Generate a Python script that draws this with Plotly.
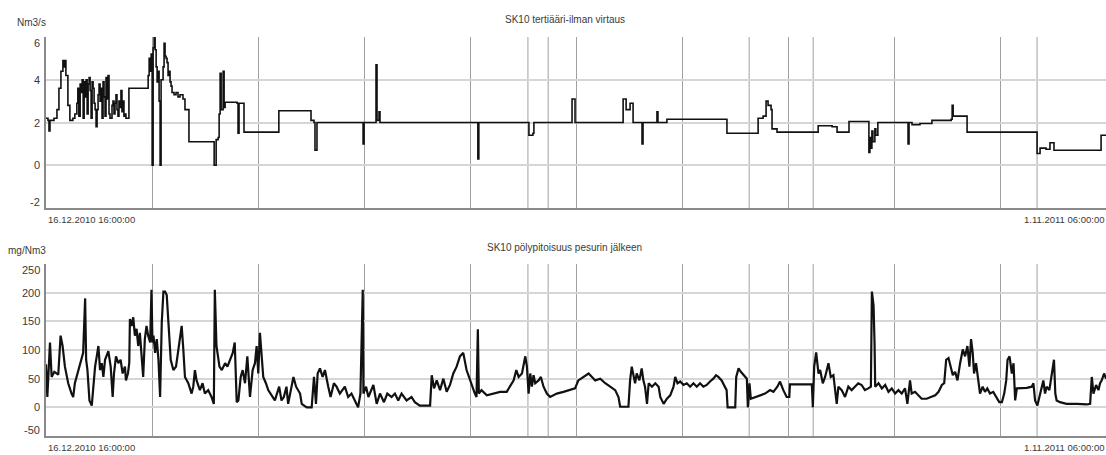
import pandas as pd
import plotly.graph_objects as go

# ---------------- data ----------------
start_time = "2010-12-16 16:00:00"
end_time = "2011-11-01 06:00:00"
start_label = "16.12.2010 16:00:00"
end_label = "1.11.2011 06:00:00"

title_top = "SK10 tertiääri-ilman virtaus"
title_bottom = "SK10 pölypitoisuus pesurin jälkeen"
unit_top = "Nm3/s"
unit_bottom = "mg/Nm3"

# days since start, flow value (Nm3/s), held until next point
flow_days = [0, 0.6, 0.9, 1.2, 2.4, 3.3, 3.9, 4.5, 5.1, 5.4, 5.7, 6.0, 6.6, 7.2, 8.1, 8.7,
             9.3, 9.6, 9.9, 10.3, 10.6, 10.9, 11.2, 11.5, 11.8, 12.1, 12.4, 12.7, 13.0, 13.3,
             13.6, 13.9, 14.2, 14.5, 14.8, 15.1, 15.4, 15.7, 16.0, 16.3, 16.6, 16.9, 17.2, 17.5,
             17.8, 18.1, 18.4, 18.7, 19.0, 19.3, 19.9, 20.2, 20.5, 20.8, 21.1, 21.4, 21.7, 22.0,
             22.3, 22.6, 22.9, 23.2, 23.5, 23.8, 24.1, 24.7, 25.0, 30.5, 30.8, 31.1, 31.4, 31.7,
             32.0, 32.3, 32.6, 32.9, 33.2, 33.5, 33.8, 34.1, 34.4, 34.7, 35.3, 35.6, 35.9, 36.2,
             36.5, 36.8, 37.1, 37.4, 37.7, 38.0, 38.6, 39.2, 39.8, 40.4, 41.3, 41.9, 43.1, 50.4,
             50.7, 51.3, 51.9, 52.2, 52.5, 52.8, 53.1, 53.4, 53.7, 54.0, 57.6, 57.9, 58.2, 59.4,
             59.7, 69.9, 70.2, 79.6, 79.9, 80.8, 81.1, 81.7, 95.3, 95.6, 95.9, 99.2, 99.5, 99.8,
             100.4, 100.7, 129.9, 130.2, 130.5, 145.3, 145.6, 146.8, 147.1, 158.3, 158.6, 159.5,
             173.7, 174.0, 174.9, 176.1, 177.0, 179.4, 179.7, 180.0, 183.9, 184.2, 184.5, 187.2,
             205.3, 214.7, 216.2, 217.1, 217.7, 218.6, 218.9, 220.4, 232.8, 237.0, 238.5, 242.1,
             247.8, 248.1, 248.4, 248.7, 249.0, 249.3, 249.9, 250.2, 250.8, 259.0, 259.9, 260.2,
             261.1, 263.5, 267.1, 272.9, 273.2, 273.5, 277.7, 298.8, 299.7, 301.5, 302.7, 303.9,
             317.8, 318.1, 319.6]
flow_vals = [2.2, 2.1, 1.6, 2.1, 2.2, 2.6, 3.6, 4.4, 4.9, 4.6, 4.9, 4.2, 2.8, 2.1, 2.2, 2.4,
             2.9, 3.6, 2.3, 3.8, 3.4, 4.0, 2.2, 3.9, 3.2, 4.0, 2.4, 3.8, 4.1, 3.5,
             2.2, 3.9, 3.6, 2.9, 2.6, 1.8, 2.6, 3.3, 3.8, 3.0, 3.6, 2.2, 3.9, 3.2,
             2.3, 4.1, 3.1, 4.2, 2.4, 2.2, 2.8, 3.0, 2.4, 2.9, 3.3, 2.6, 2.3, 3.0,
             2.7, 3.5, 2.5, 3.0, 2.3, 2.4, 2.2, 2.2, 3.6, 3.6, 4.2, 5.0, 4.4, 5.2,
             0.0, 5.5, 6.0, 5.4, 4.6, 3.9, 4.4, 3.0, 0.0, 4.0, 4.6, 5.7, 5.1, 5.0,
             4.8, 4.2, 4.4, 3.9, 3.7, 3.4, 3.3, 3.4, 3.2, 3.3, 3.1, 2.6, 1.1, 1.1,
             0.0, 1.2, 1.3, 2.4, 4.3, 2.6, 2.6, 4.4, 2.7, 2.95, 2.9, 1.5, 2.9, 2.9,
             1.55, 1.55, 2.55, 2.55, 2.1, 2.0, 0.7, 2.0, 2.0, 1.0, 2.0, 2.0, 4.7, 2.1,
             2.5, 2.0, 2.0, 0.3, 2.0, 2.0, 1.4, 1.5, 2.0, 2.0, 3.1, 2.0,
             2.0, 3.1, 2.6, 2.9, 2.0, 2.0, 1.0, 2.0, 2.0, 2.5, 2.0, 2.15,
             1.5, 2.2, 2.3, 3.0, 2.8, 2.6, 1.7, 1.55, 1.85, 1.8, 1.55, 2.05,
             2.05, 0.6, 1.3, 0.8, 1.6, 1.1, 1.7, 1.4, 2.0, 2.0, 1.0, 2.0,
             1.9, 1.95, 2.1, 2.15, 2.8, 2.3, 1.55, 0.55, 0.8, 0.75, 1.05, 0.7,
             0.7, 1.4, 1.4]

# days since start, dust concentration (mg/Nm3)
dust_days = [0, 0.4, 1.2, 1.7, 2.5, 3.7, 4.4, 5.0, 5.7, 6.7, 7.7, 8.2, 8.7, 9.7, 10.7, 11.2,
             11.8, 12.1, 12.5, 13.1, 13.8, 14.3, 14.8, 15.3, 15.8, 16.3, 16.8, 17.3, 17.8, 18.8,
             19.5, 20.1, 20.5, 21.1, 21.8, 22.5, 23.1, 23.8, 24.1, 24.7, 25.1, 25.3, 25.8, 26.3,
             26.8, 27.3, 27.8, 28.3, 29.3, 29.8, 30.3, 30.8, 31.4, 31.8, 32.1, 32.4, 32.9, 33.4,
             33.9, 34.4, 34.9, 35.4, 35.9, 36.4, 36.9, 37.6, 38.4, 39.2, 40.2, 40.9, 41.4, 41.9,
             42.9, 43.9, 44.4, 44.9, 45.4, 46.4, 47.2, 47.9, 48.9, 49.9, 50.6, 50.9, 51.4, 52.3,
             53.0, 54.0, 54.7, 55.5, 56.3, 56.9, 57.2, 57.5, 58.0, 58.7, 59.3, 60.0, 60.7, 61.5,
             62.3, 63.0, 63.5, 64.0, 64.5, 65.0, 65.5, 66.3, 67.0, 69.0, 70.3, 71.0, 71.7, 72.5,
             73.0, 74.6, 75.4, 76.6, 77.1, 78.6, 80.1, 80.8, 81.4, 81.9, 82.6, 83.4, 84.1, 85.1,
             85.8, 86.8, 87.6, 88.6, 89.4, 90.1, 91.1, 92.1, 93.1, 94.1, 94.8, 95.5, 95.7, 96.5,
             97.2, 98.7, 99.7, 100.7, 101.9, 102.9, 104.2, 105.2, 106.2, 107.2, 108.7, 110.2,
             111.2, 112.7, 115.8, 116.3, 117.0, 117.8, 118.8, 119.8, 120.8, 121.8, 122.8, 123.8,
             124.8, 125.8, 126.8, 127.8, 129.3, 129.8, 130.2, 130.5, 131.3, 132.9, 134.9, 136.9,
             138.9, 139.9, 141.0, 141.8, 142.5, 143.5, 144.0, 144.5, 145.0, 145.5, 146.0, 146.5,
             147.0, 147.5, 148.5, 149.2, 150.0, 151.0, 152.0, 154.0, 156.0, 158.0, 159.5, 160.5,
             162.1, 163.6, 164.6, 165.6, 167.1, 168.6, 170.1, 171.6, 172.6, 173.1, 175.6, 176.1,
             176.6, 177.1, 177.6, 178.1, 178.9, 179.6, 180.1, 180.6, 181.2, 181.7, 182.7, 183.7,
             184.7, 185.2, 186.2, 187.2, 188.2, 189.2, 189.7, 190.4, 191.2, 192.2, 193.2, 194.2,
             195.2, 196.2, 197.2, 198.2, 199.2, 200.2, 201.2, 202.0, 202.7, 203.7, 204.4, 205.2,
             205.5, 207.8, 208.1, 208.8, 209.5, 210.3, 211.3, 211.6, 212.1, 212.5, 213.8, 215.3,
             216.8, 218.3, 219.3, 220.5, 221.3, 222.3, 223.3, 224.1, 224.3, 230.9, 231.2, 231.6,
             232.2, 232.9, 233.4, 234.2, 234.9, 235.9, 236.6, 237.4, 238.4, 238.9, 239.9, 240.9,
             241.9, 242.9, 243.9, 244.9, 245.9, 246.9, 247.9, 248.7, 249.0, 249.5, 249.8, 250.0,
             251.0, 252.0, 253.0, 254.0, 255.0, 256.0, 257.0, 258.0, 259.0, 259.7, 260.5, 261.0,
             262.0, 263.0, 264.0, 265.5, 267.0, 268.1, 269.1, 270.1, 270.8, 271.4, 272.1, 272.8,
             273.4, 274.1, 274.8, 275.6, 276.4, 277.1, 277.8, 278.4, 278.9, 279.4, 279.8, 280.4,
             281.1, 281.6, 282.4, 283.1, 283.8, 284.6, 285.6, 286.6, 287.4, 288.2, 288.9, 289.5,
             289.9, 290.5, 291.2, 291.7, 292.2, 292.7, 293.7, 294.7, 295.7, 297.2, 297.7, 298.2,
             298.9, 299.5, 300.2, 300.7, 301.2, 301.7, 302.5, 303.2, 303.9, 304.3, 304.7, 305.7,
             307.7, 310.8, 313.8, 314.8, 315.3, 315.8, 316.6, 317.3, 317.8, 318.3, 319.0, 319.6]
dust_vals = [75, 18, 113, 53, 62, 57, 125, 107, 71, 42, 24, 18, 42, 65, 83, 95,
             190, 83, 65, 12, 3, 36, 71, 89, 107, 65, 77, 53, 83, 98,
             71, 18, 59, 89, 77, 83, 59, 71, 47, 59, 77, 154, 142, 157,
             125, 137, 107, 130, 53, 119, 142, 125, 113, 205, 113, 125, 95, 119,
             83, 18, 148, 202, 202, 196, 142, 83, 65, 71, 113, 142, 101, 53,
             42, 24, 36, 65, 47, 30, 42, 24, 30, 18, 6, 205, 107, 71,
             65, 77, 71, 83, 95, 113, 65, 9, 12, 53, 65, 42, 89, 18,
             65, 77, 107, 59, 130, 83, 53, 42, 30, 12, 36, 12, 18, 36,
             6, 53, 36, 24, 6, 0, 0, 53, 6, 59, 68, 53, 65, 36,
             18, 42, 36, 24, 30, 36, 18, 24, 12, 0, 24, 205, 24, 36,
             18, 39, 6, 24, 9, 24, 18, 24, 12, 24, 12, 18,
             9, 3, 3, 56, 33, 47, 30, 50, 27, 39, 59, 71,
             89, 95, 65, 47, 24, 18, 136, 24, 30, 21, 24, 27,
             27, 36, 47, 65, 53, 59, 77, 89, 71, 24, 59, 36,
             56, 42, 47, 53, 36, 24, 18, 24, 27, 30, 33, 47,
             53, 59, 53, 47, 50, 42, 36, 30, 18, 1, 1, 47,
             71, 53, 42, 59, 47, 68, 47, 36, 6, 42, 36, 42,
             36, 18, 6, 15, 21, 36, 53, 42, 45, 39, 42, 36,
             42, 36, 42, 36, 39, 45, 50, 56, 53, 47, 39, 30,
             0, 0, 53, 68, 62, 56, 50, 0, 42, 15, 18, 21,
             24, 30, 27, 36, 45, 30, 18, 18, 40, 40, 0, 71,
             96, 59, 65, 42, 53, 77, 53, 56, 6, 36, 30, 18,
             36, 30, 36, 42, 39, 30, 33, 36, 202, 178, 113, 36,
             42, 33, 39, 27, 33, 24, 30, 24, 33, 6, 47, 24,
             27, 21, 15, 15, 18, 21, 27, 39, 42, 83, 86, 71,
             56, 62, 47, 77, 101, 89, 107, 71, 119, 95, 59, 77,
             47, 24, 36, 27, 33, 24, 27, 18, 9, 9, 24, 47,
             83, 89, 59, 77, 12, 33, 33, 33, 34, 36, 42, 12,
             3, 18, 36, 47, 24, 36, 30, 56, 83, 24, 12, 9,
             6, 6, 5, 6, 53, 24, 39, 30, 42, 47, 59, 50]

# extra event marker lines (days since start)
event_days = [145.3, 151.4, 212.0, 231.3, 298.8]

flow_ticks = [-2, 0, 2, 4, 6]
dust_ticks = [-50, 0, 50, 100, 150, 200, 250]

# ---------------- figure ----------------
t0 = pd.Timestamp(start_time)
t1 = pd.Timestamp(end_time)
to_time = lambda d: t0 + pd.to_timedelta(pd.Series(d, dtype=float), unit="D")

flow_x = to_time(flow_days)
dust_x = to_time(dust_days)
grid_x = [t0 + (t1 - t0) * k / 10 for k in range(11)]
event_x = list(to_time(event_days))

FONT = "Liberation Sans Narrow, Arial Narrow, Liberation Sans, Arial, sans-serif"
TXT = "#3a3a3a"

fig = go.Figure()
fig.add_trace(go.Scatter(x=flow_x, y=flow_vals, mode="lines", line_shape="hv",
                         line=dict(color="#111111", width=1.6),
                         xaxis="x", yaxis="y", showlegend=False, hoverinfo="skip"))
fig.add_trace(go.Scatter(x=dust_x, y=dust_vals, mode="lines",
                         line=dict(color="#111111", width=2.2),
                         xaxis="x2", yaxis="y2", showlegend=False, hoverinfo="skip"))

H = 455.0
xcommon = dict(type="date", range=[t0, t1], tickvals=grid_x, showticklabels=False,
               showgrid=True, gridcolor="#a0a0a0", gridwidth=1, ticks="",
               showline=True, linecolor="#8a8a8a", linewidth=2, zeroline=False,
               domain=[0, 1])
ycommon = dict(showgrid=True, gridcolor="#d6d6d6", gridwidth=2, ticks="",
               showticklabels=False,
               showline=True, linecolor="#8a8a8a", linewidth=1.5, zeroline=False)

fig.update_layout(
    width=1106, height=455,
    margin=dict(l=46, r=0, t=0, b=0),
    paper_bgcolor="white", plot_bgcolor="white",
    font=dict(family=FONT, size=10, color=TXT),
    xaxis=dict(**xcommon, anchor="y"),
    xaxis2=dict(**xcommon, anchor="y2"),
    yaxis=dict(**ycommon, range=[-2, 6], tickvals=flow_ticks,
               domain=[1 - 208 / H, 1 - 37 / H], anchor="x"),
    yaxis2=dict(**ycommon, range=[-50, 250], tickvals=dust_ticks,
                domain=[1 - 436 / H, 1 - 264 / H], anchor="x2"),
)

shapes = []
for ex in event_x:
    for xr, yr in (("x", "y domain"), ("x2", "y2 domain")):
        shapes.append(dict(type="line", xref=xr, yref=yr, x0=ex, x1=ex, y0=0, y1=1,
                           line=dict(color="#a0a0a0", width=1), layer="below"))
fig.update_layout(shapes=shapes)

# y tick labels (edge labels pulled inside, plain hyphen minus as in the original)
for yref, ticks in (("y", flow_ticks), ("y2", dust_ticks)):
    for i, v in enumerate(ticks):
        shift = 6 if i == 0 else (-6 if i == len(ticks) - 1 else 0)
        fig.add_annotation(text=str(v), xref="paper", yref=yref, x=0, y=v,
                           xanchor="right", yanchor="middle", xshift=-4, yshift=shift,
                           showarrow=False, font=dict(family=FONT, size=11, color=TXT))

def ann(text, x, y_px, xanchor, size=10, xshift=0):
    fig.add_annotation(text=text, xref="paper", yref="paper", x=x, y=1 - y_px / H,
                       xanchor=xanchor, yanchor="middle", showarrow=False, xshift=xshift,
                       font=dict(family=FONT, size=size, color=TXT))

ann(title_top, 0.4896, 20, "center")
ann(title_bottom, 0.4896, 248, "center")
ann(unit_top, 0, 22, "right", xshift=2)
ann(unit_bottom, 0, 250, "right", xshift=2)
ann(start_label, 0.0, 219, "left", size=9.5)
ann(end_label, 1.0, 219, "right", size=9.5)
ann(start_label, 0.0, 447, "left", size=9.5)
ann(end_label, 1.0, 447, "right", size=9.5)

fig.write_html("out.html")
